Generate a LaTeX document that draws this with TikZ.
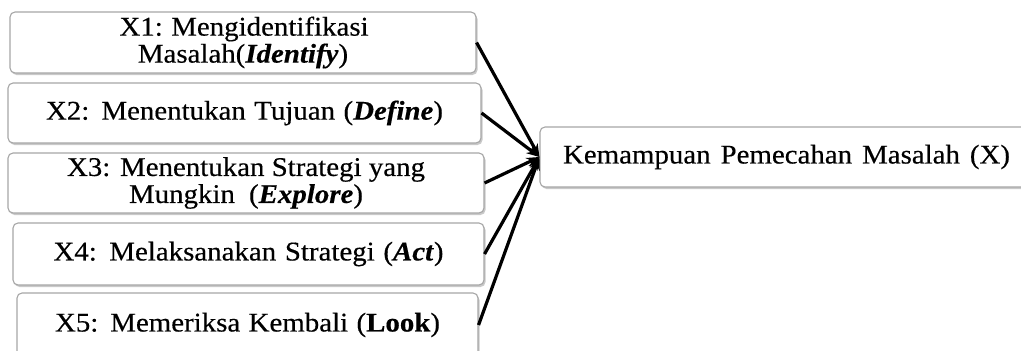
\documentclass[tikz,border=0pt]{standalone}
\usepackage{fontspec}
\setmainfont{Liberation Serif}[FakeStretch=1.07,FakeBold=0.4]
\usetikzlibrary{shadows,arrows.meta}
\definecolor{boxgray}{HTML}{A6A6A6}
\tikzset{
  box/.style={draw=boxgray, line width=1.1pt, rounded corners=5pt, fill=white,
    inner sep=0pt, align=center,
    drop shadow={shadow xshift=1.5pt, shadow yshift=-2pt, opacity=0.35, fill=black!60},
    font=\fontsize{27}{27}\selectfont},
  link/.style={line width=3.2pt, -{Stealth[length=13pt,width=10pt]}}
}
\begin{document}
\begin{tikzpicture}[x=1pt,y=-1pt]
\useasboundingbox (0,0) rectangle (1021,351);
\fill[white] (0,0) rectangle (1021,351);
\node[box, minimum width=466pt, minimum height=61pt] (x1) at (243,42.5)
  {\makebox[247pt][s]{X1: Mengidentifikasi}\\Masalah(\textbf{\textit{Identify}})};
\node[box, minimum width=473pt, minimum height=60pt] (x2) at (244.5,113)
  {\makebox[397pt][s]{X2: Menentukan Tujuan (\textbf{\textit{Define}})}};
\node[box, minimum width=476pt, minimum height=60pt] (x3) at (246,183)
  {\makebox[358pt][s]{X3: Menentukan Strategi yang}\\\makebox[234pt][s]{Mungkin (\textbf{\textit{Explore}})}};
\node[box, minimum width=471pt, minimum height=62pt] (x4) at (248.5,254)
  {\makebox[390pt][s]{X4: Melaksanakan Strategi (\textbf{\textit{Act}})}};
\node[box, minimum width=461pt, minimum height=64pt] (x5) at (247.5,325)
  {\makebox[385pt][s]{X5: Memeriksa Kembali (\textbf{Look})}};
\node[box, minimum width=493pt, minimum height=60pt] (t) at (786.5,157)
  {\makebox[447pt][s]{Kemampuan Pemecahan Masalah (X)}};
\foreach \n in {x1,x2,x3,x4,x5}
  \draw[link] (\n.east) -- (t.west);
\end{tikzpicture}
\end{document}
